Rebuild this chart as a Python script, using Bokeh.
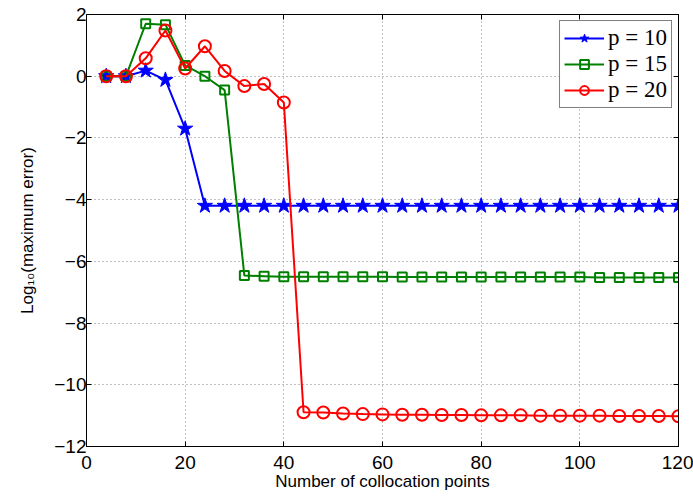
from bokeh.plotting import figure
from bokeh.models import FixedTicker, LinearAxis, Legend, LegendItem, Range1d, CustomJSTickFormatter
from bokeh.embed import file_html
from bokeh.resources import INLINE

x = list(range(4, 121, 4))
p10 = [0, 0, 0.18, -0.12, -1.7] + [-4.2] * 25
p15 = [0, 0, 1.7, 1.67, 0.35, 0.0, -0.45, -6.46, -6.48, -6.5] + [-6.5] * 5 + [-6.51] * 10 + [-6.52] * 5
p20 = [0, 0, 0.58, 1.48, 0.25, 0.97, 0.17, -0.32, -0.25, -0.85,
       -10.89, -10.9, -10.93, -10.95, -10.96, -10.97, -10.97, -10.98, -10.98, -10.99,
       -10.99, -10.99, -11.0, -11.0, -11.0, -11.0, -11.01, -11.01, -11.01, -11.02]
x_ticks = [0, 20, 40, 60, 80, 100, 120]
y_ticks = [-12, -10, -8, -6, -4, -2, 0, 2]

FONT = "Liberation Sans"

p = figure(width=693, height=497, output_backend="svg", toolbar_location=None,
           x_range=Range1d(0, 120), y_range=Range1d(-12, 2),
           min_border_left=86, min_border_right=15, min_border_top=14, min_border_bottom=51)
p.outline_line_color = "black"
p.outline_line_width = 1

fmt = CustomJSTickFormatter(code="return String(tick).replace('-', '\u2212');")
blank = CustomJSTickFormatter(code="return '';")

for ax in [p.xaxis[0], p.yaxis[0]]:
    ax.major_tick_in = 5
    ax.major_tick_out = 0
    ax.minor_tick_line_color = None
    ax.axis_line_color = "black"
    ax.major_tick_line_color = "black"
    ax.major_label_text_font = FONT
    ax.major_label_text_font_size = "19px"
    ax.major_label_text_color = "black"
    ax.axis_label_text_font = FONT
    ax.axis_label_text_font_size = "17px"
    ax.axis_label_text_font_style = "normal"
    ax.axis_label_text_color = "black"
    ax.formatter = fmt
p.xaxis[0].ticker = FixedTicker(ticks=x_ticks)
p.yaxis[0].ticker = FixedTicker(ticks=y_ticks)
p.xaxis[0].axis_label = "Number of collocation points"
p.yaxis[0].axis_label = "Log\u2081\u2080(maximum error)"
p.xaxis[0].major_label_standoff = 9
p.xaxis[0].axis_label_standoff = 0
p.yaxis[0].major_label_standoff = 0
p.yaxis[0].axis_label_standoff = 14

for loc, tk in [("right", y_ticks), ("above", x_ticks)]:
    a = LinearAxis(ticker=FixedTicker(ticks=tk), formatter=blank,
                   major_tick_in=5, major_tick_out=0, minor_tick_line_color=None,
                   major_tick_line_color="black", axis_line_color="black")
    p.add_layout(a, loc)

p.xgrid.ticker = FixedTicker(ticks=x_ticks)
p.ygrid.ticker = FixedTicker(ticks=y_ticks)
for g in [p.xgrid, p.ygrid]:
    g.grid_line_color = "#808080"
    g.grid_line_dash = "1 3"
    g.grid_line_width = 1

l1 = p.line(x, p10, line_color="#0000ff", line_width=2)
s1 = p.scatter(x, p10, marker="star", size=16, fill_color="#0000ff", line_color="#0000ff")
l2 = p.line(x, p15, line_color="#008000", line_width=2)
s2 = p.scatter(x, p15, marker="square", size=9, fill_color=None, line_color="#008000", line_width=2)
l3 = p.line(x, p20, line_color="#ff0000", line_width=2)
s3 = p.scatter(x, p20, marker="circle", size=12, fill_color=None, line_color="#ff0000", line_width=2)

legend = Legend(items=[LegendItem(label="p = 10", renderers=[l1, s1]),
                       LegendItem(label="p = 15", renderers=[l2, s2]),
                       LegendItem(label="p = 20", renderers=[l3, s3])],
                location="top_right")
legend.label_text_font = "Liberation Serif"
legend.label_text_font_style = "normal"
legend.label_text_font_size = "23px"
legend.label_text_color = "black"
legend.border_line_color = "black"
legend.border_line_width = 1
legend.margin = 6
legend.padding = 4
legend.spacing = 0
legend.glyph_width = 40
legend.label_standoff = 4
legend.label_height = 22
legend.glyph_height = 22
p.add_layout(legend)

open("out.html", "w").write(file_html(p, INLINE))
